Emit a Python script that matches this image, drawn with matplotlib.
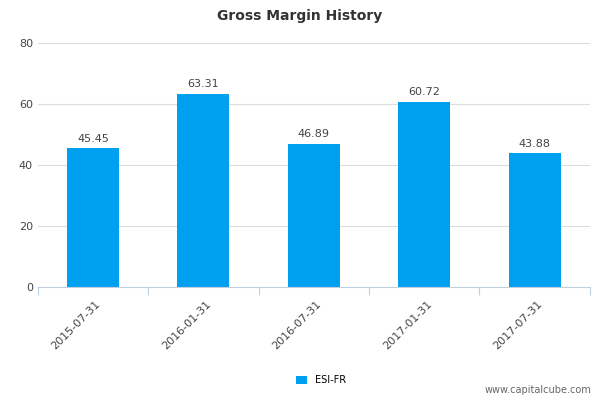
import matplotlib
matplotlib.use("Agg")
import matplotlib.pyplot as plt
import numpy as np

categories = ["2015-07-31", "2016-01-31", "2016-07-31", "2017-01-31", "2017-07-31"]
values = [45.45, 63.31, 46.89, 60.72, 43.88]
series_name = "ESI-FR"

fig = plt.figure(figsize=(6, 4), dpi=100)
ax = fig.add_axes([0.063, 0.2825, 0.92, 0.61])
x = np.arange(len(categories))
color = "#00a0f0"
bars = ax.bar(x, values, width=0.47, color=color, label=series_name)
for xi, v in zip(x, values):
    ax.text(xi, v + 1.5, f"{v:.2f}", ha="center", va="bottom", fontsize=8, color="#444444")
ax.set_xlim(-0.5, len(categories) - 0.5)
ax.set_ylim(0, 80)
ax.set_yticks([0, 20, 40, 60, 80])
ax.tick_params(axis="y", length=0, labelsize=8, colors="#444444")
ax.set_xticks(np.arange(-0.5, len(categories), 1.0))
ax.set_xticklabels([])
ax.tick_params(axis="x", length=6, color="#c0d0e0")
for xi, c in zip(x, categories):
    ax.text(xi + 0.02, -4, c, rotation=45, ha="right", va="top", rotation_mode="anchor",
            fontsize=8, color="#444444", transform=ax.transData)
ax.grid(axis="y", color="#dddddd", linewidth=0.8)
ax.set_axisbelow(True)
for s in ["top", "right", "left"]:
    ax.spines[s].set_visible(False)
ax.spines["bottom"].set_color("#c0d0e0")
fig.text(0.5, 0.96, "Gross Margin History", ha="center", va="center", fontsize=10,
         fontweight="bold", color="#333333")
fig.legend(handles=[bars], labels=[series_name], loc="center", bbox_to_anchor=(0.535, 0.05),
           frameon=False, fontsize=7, handlelength=1.2, handleheight=0.9)
fig.text(0.985, 0.025, "www.capitalcube.com", ha="right", va="center", fontsize=7, color="#666666")
fig.savefig("out.png", dpi=100)
